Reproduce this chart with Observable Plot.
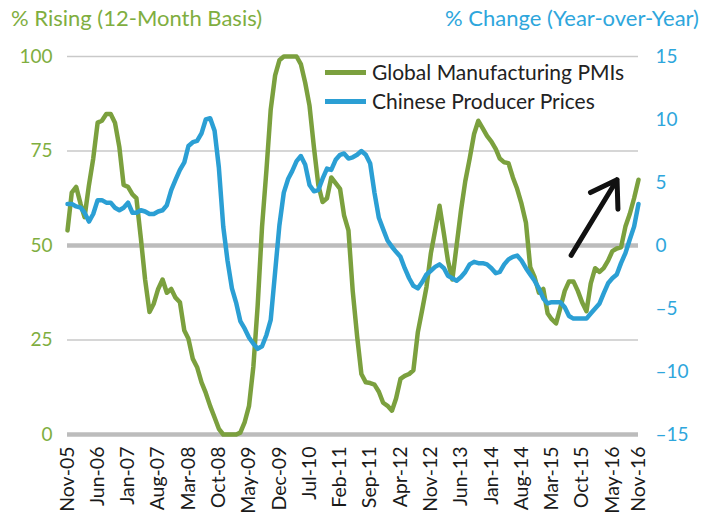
<!DOCTYPE html>
<html><head><meta charset="utf-8">
<script src="https://cdn.jsdelivr.net/npm/d3@7"></script>
<script src="https://cdn.jsdelivr.net/npm/@observablehq/plot@0.6"></script>
<style>
body{margin:0;background:#fff;font-family:Lato,"Open Sans",sans-serif;}
#wrap{position:relative;width:713px;height:520px;}
.t{position:absolute;white-space:nowrap;line-height:26px;}
.sw{position:absolute;width:41px;height:5px;}
</style></head><body><div id="wrap"></div>
<script>
const startMonth = "2005-11";
const tickLabels = ["Nov-05","Jun-06","Jan-07","Aug-07","Mar-08","Oct-08","May-09","Dec-09","Jul-10","Feb-11","Sep-11","Apr-12","Nov-12","Jun-13","Jan-14","Aug-14","Mar-15","Oct-15","May-16","Nov-16"];
const leftTicks = [0, 25, 50, 75, 100];
const rightTicks = [-15, -10, -5, 0, 5, 10, 15];
const seriesNames = ["Global Manufacturing PMIs", "Chinese Producer Prices"];
// % of global manufacturing PMIs rising (12-month basis), monthly from Nov-05
const pmiRising = [
  54, 64, 65.5, 61, 57.5, 66, 73, 82.5, 83, 84.8,
  84.8, 82.5, 76, 66, 65.5, 63.5, 62.5, 52, 41, 32.4,
  34.6, 38.5, 41, 37.5, 38.5, 36.2, 35, 27.5, 25.3, 20,
  17.8, 13.8, 11, 7.5, 4.5, 1.5, 0, 0, 0, 0,
  0.5, 3.3, 7.5, 18, 34, 55, 70, 86, 95, 99,
  100, 100, 100, 100, 98, 93, 87, 76, 66, 61.5,
  62.5, 68, 66.5, 65, 58, 54, 38, 26, 16, 13.8,
  13.6, 13.2, 11.3, 8.4, 7.6, 6.3, 9.5, 14.7, 15.5, 16,
  17, 27, 33, 39, 48, 54, 60.5, 53, 46, 41,
  50, 59.3, 67, 73, 79.5, 83, 81, 79, 77.5, 75.5,
  73, 72, 71.8, 68, 65, 61, 56, 44.3, 41.6, 37.5,
  38.5, 32, 30.5, 29.4, 33.5, 38, 40.5, 40.5, 38, 35,
  32.6, 40, 44, 43, 44, 46, 48.5, 49.2, 49.5, 55,
  58.4, 62.5, 67.4
];
// Chinese producer prices, % change year-over-year, monthly from Nov-05
const chinaPPI = [
  3.3, 3.3, 3.1, 3.0, 2.6, 1.9, 2.5, 3.6, 3.6, 3.4,
  3.4, 3.0, 2.8, 3.0, 3.4, 2.6, 2.6, 2.8, 2.7, 2.5,
  2.5, 2.7, 2.8, 3.2, 4.4, 5.2, 6.0, 6.6, 7.9, 8.2,
  8.3, 8.9, 10.0, 10.1, 9.1, 6.2, 1.5, -1.2, -3.4, -4.6,
  -6.0, -6.6, -7.3, -7.8, -8.2, -8.0, -7.1, -5.9, -2.1, 1.6,
  4.2, 5.3, 5.9, 6.7, 7.1, 6.4, 4.8, 4.3, 4.4, 5.3,
  6.1, 6.0, 6.8, 7.2, 7.3, 6.9, 7.0, 7.2, 7.5, 7.2,
  6.5, 4.2, 2.2, 1.3, 0.4, -0.1, -0.5, -0.9, -1.8, -2.6,
  -3.2, -3.4, -2.9, -2.3, -2.0, -1.7, -1.5, -1.8, -2.4, -2.6,
  -2.8, -2.5, -2.1, -1.5, -1.3, -1.4, -1.4, -1.5, -1.8, -2.2,
  -2.1, -1.5, -1.1, -0.9, -0.8, -1.2, -1.8, -2.3, -2.8, -3.4,
  -4.2, -4.6, -4.5, -4.5, -4.5, -4.9, -5.6, -5.8, -5.8, -5.8,
  -5.8, -5.4, -5.0, -4.6, -3.8, -3.0, -2.6, -2.3, -1.4, -0.6,
  0.5, 1.5, 3.3
];
// annotation arrow, in data units (date, % rising)
const arrowTail = ["2015-07-16", 47.4];
const arrowHead = ["2016-06-03", 67.4];

const GREEN = "#7ba03e", BLUE = "#2b9fd4";
const GREEN_TXT = "#7fae3f", BLUE_TXT = "#2ea6dc";

const t0 = d3.utcParse("%Y-%m")(startMonth);
const rows = pmiRising.map((v, i) => ({date: d3.utcMonth.offset(t0, i), pmi: v, ppi: chinaPPI[i]}));
const tickDates = tickLabels.map(d3.utcParse("%b-%y"));
const pDay = d3.utcParse("%Y-%m-%d");
const arrows = [{x1: pDay(arrowTail[0]), y1: arrowTail[1], x2: pDay(arrowHead[0]), y2: arrowHead[1]}];

// map right-axis values (-15..15) onto the left scale (0..100)
const toLeft = u => (u + 15) / 30 * 100;
const fromLeft = d => Math.round(d / 100 * 30 - 15);
const fmtRight = d => { const u = fromLeft(d); return u < 0 ? "\u2013" + (-u) : String(u); };

const chart = Plot.plot({
  width: 713, height: 520,
  marginLeft: 67, marginRight: 75, marginTop: 56, marginBottom: 86,
  x: {type: "utc", domain: [rows[0].date, rows[rows.length - 1].date]},
  y: {domain: [0, 100]},
  style: {fontFamily: "Lato, 'Open Sans', sans-serif", fontSize: "19px", background: "#fff", overflow: "visible"},
  marks: [
    Plot.ruleY([100, 75, 25], {stroke: "#c9c9c9", strokeWidth: 1.5}),
    Plot.ruleY([50, 0], {stroke: "#bcbcbc", strokeWidth: 4.5}),
    Plot.axisY(leftTicks, {anchor: "left", tickSize: 0, tickPadding: 15, color: GREEN_TXT, label: null, fontSize: 19}),
    Plot.axisY(rightTicks.map(toLeft), {anchor: "right", tickSize: 0, tickPadding: 17, tickFormat: fmtRight, color: BLUE_TXT, label: null, fontSize: 19}),
    Plot.axisX(tickDates, {anchor: "bottom", tickFormat: d3.utcFormat("%b-%y"), tickRotate: -90, tickSize: 0, tickPadding: 12, color: "#1a1a1a", label: null, fontSize: 19.5}),
    Plot.line(rows, {x: "date", y: "pmi", stroke: GREEN, strokeWidth: 4.5, strokeLinejoin: "round"}),
    Plot.line(rows, {x: "date", y: d => toLeft(d.ppi), stroke: BLUE, strokeWidth: 4.5, strokeLinejoin: "round"}),
    Plot.arrow(arrows, {x1: "x1", y1: "y1", x2: "x2", y2: "y2", stroke: "#111", strokeWidth: 5, headAngle: 66, headLength: 26})
  ]
});
const wrap = document.getElementById("wrap");
wrap.appendChild(chart);

function addText(txt, css) {
  const d = document.createElement("div");
  d.className = "t"; d.textContent = txt; Object.assign(d.style, css); wrap.appendChild(d);
}
function addSwatch(color, css) {
  const d = document.createElement("div");
  d.className = "sw"; d.style.background = color; Object.assign(d.style, css); wrap.appendChild(d);
}
addText("% Rising (12-Month Basis)", {left: "11px", top: "5px", color: GREEN_TXT, fontSize: "22px"});
addText("% Change (Year-over-Year)", {right: "14px", top: "5px", color: BLUE_TXT, fontSize: "22px"});
addSwatch(GREEN, {left: "325px", top: "70px"});
addSwatch(BLUE, {left: "325px", top: "99px"});
addText(seriesNames[0], {left: "372px", top: "59px", color: "#222", fontSize: "21px"});
addText(seriesNames[1], {left: "372px", top: "88px", color: "#222", fontSize: "21px"});
</script></body></html>
